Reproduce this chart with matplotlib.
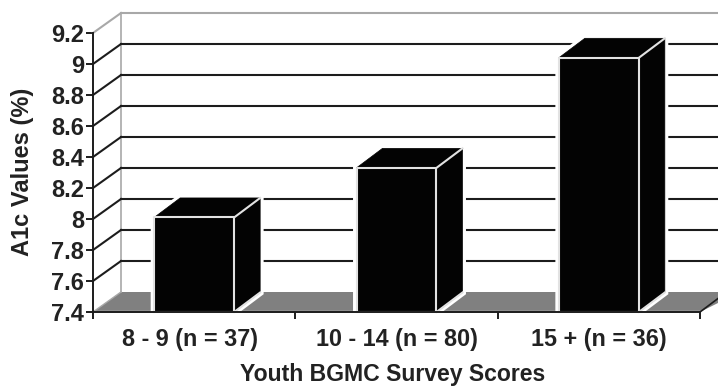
import matplotlib
matplotlib.use("Agg")
import matplotlib.pyplot as plt
from matplotlib.patches import Polygon
from matplotlib.transforms import ScaledTranslation

categories = ["8 - 9 (n = 37)", "10 - 14 (n = 80)", "15 + (n = 36)"]
values = [8.01, 8.33, 9.04]
y_ticks = [7.4, 7.6, 7.8, 8.0, 8.2, 8.4, 8.6, 8.8, 9.0, 9.2]
y_labels = ["7.4", "7.6", "7.8", "8", "8.2", "8.4", "8.6", "8.8", "9", "9.2"]
y_title = "A1c Values (%)"
x_title = "Youth BGMC Survey Scores"

W, H = 718, 386
L, R, T, B = 93, 700, 33, 312
plt.rcParams["font.family"] = ["Liberation Sans", "DejaVu Sans"]
plt.rcParams["font.weight"] = "bold"
TXT = "#222222"
LINE = "#1c1c1c"
GREY = "#a8a8a8"
EDGE = "#e2e2e2"

fig = plt.figure(figsize=(W / 100, H / 100), dpi=100, facecolor="white")
ax = fig.add_axes([L / W, 1 - B / H, (R - L) / W, (B - T) / H])
ax.set_xlim(0, 3)
ax.set_ylim(7.4, 9.2)
ax.patch.set_visible(False)
for s in ("top", "right"):
    ax.spines[s].set_visible(False)
for s in ("left", "bottom"):
    ax.spines[s].set_linewidth(1.4)
    ax.spines[s].set_color(LINE)
    ax.spines[s].set_zorder(6)

ux = 3 / (R - L)            # data units per pixel, x
uy = 1.8 / (B - T)          # data units per pixel, y
dx, dy = 28 * ux, 20 * uy   # depth of the back wall
bx, by = 26 * ux, 19.5 * uy # depth of the bars
bw = 80 * ux
xfar = 3 + 40 * ux

# floor
ax.add_patch(Polygon([(0, 7.4), (dx, 7.4 + dy), (xfar, 7.4 + dy), (3, 7.4)],
                     fc="#808080", ec="none", zorder=1, clip_on=False))
ax.plot([0, 3], [7.4 + 1.5 * uy] * 2, color="#c8c8c8", lw=1, zorder=1.5, clip_on=False)

# walls and gridlines
ax.plot([dx, dx], [7.4 + dy, 9.2 + dy], color=GREY, lw=1.2, zorder=1, clip_on=False)
for t in y_ticks:
    is_top = t == y_ticks[-1]
    c = GREY if is_top else LINE
    if t != y_ticks[0]:
        ax.plot([dx, xfar], [t + dy] * 2, color=c, lw=1.5, zorder=2, clip_on=False)
        ax.plot([0, dx], [t, t + dy], color=c, lw=1.5, zorder=2, clip_on=False)
ax.plot([0, dx], [7.4, 7.4 + dy], color=GREY, lw=1, zorder=2, clip_on=False)
ax.plot([3, xfar], [7.4, 7.4 + 30 * uy], color=LINE, lw=1.2, zorder=2, clip_on=False)

# bars
for i, v in enumerate(values):
    c = i + 0.5
    x0, x1 = c - bw / 2, c + bw / 2
    front = [(x0, 7.4), (x1, 7.4), (x1, v), (x0, v)]
    side = [(x1, 7.4), (x1 + bx, 7.4 + by), (x1 + bx, v + by), (x1, v)]
    top = [(x0, v), (x1, v), (x1 + bx, v + by), (x0 + bx, v + by)]
    outline = [(x0, 7.4), (x1, 7.4), (x1 + bx, 7.4 + by), (x1 + bx, v + by),
               (x0 + bx, v + by), (x0, v)]
    ax.add_patch(Polygon(outline, fc="white", ec="white", lw=5, zorder=3, clip_on=False))
    for poly in (front, side, top):
        ax.add_patch(Polygon(poly, fc="#030303", ec="#030303", lw=0.5, zorder=4, clip_on=False))
    ax.plot([x0, x0, x1, x1, x0], [7.4, v, v, 7.4, 7.4], color=EDGE, lw=1.5, zorder=5, clip_on=False)
    ax.plot([x1, x1 + bx], [v, v + by], color=EDGE, lw=1.5, zorder=5, clip_on=False)
    ax.plot([x1, x1 + bx], [7.4, 7.4 + by], color=EDGE, lw=1.5, zorder=5, clip_on=False)

ax.set_yticks(y_ticks, y_labels, fontsize=17, color=TXT)
ax.set_xticks([0, 1, 2, 3], [""] * 4)
ax.set_xticks([0.5, 1.5, 2.5], categories, minor=True, fontsize=16.8, color=TXT)
ax.tick_params(axis="y", length=5, width=1.4, color=LINE, pad=1.5)
ax.tick_params(axis="x", which="major", length=5, width=1.4, color=LINE)
ax.tick_params(axis="x", which="minor", length=0, pad=11.5)
first = ax.get_xticklabels(minor=True)[0]
first.set_transform(first.get_transform() + ScaledTranslation(-4 / 100, 0, fig.dpi_scale_trans))

fig.text(23 / W, 1 - 172 / H, y_title, rotation=90, ha="center", va="center",
         fontsize=17, color=TXT)
fig.text(392.5 / W, 1 - 380.5 / H, x_title, ha="center", va="baseline", fontsize=16.6, color=TXT)

fig.savefig("out.png", dpi=100, facecolor="white")
